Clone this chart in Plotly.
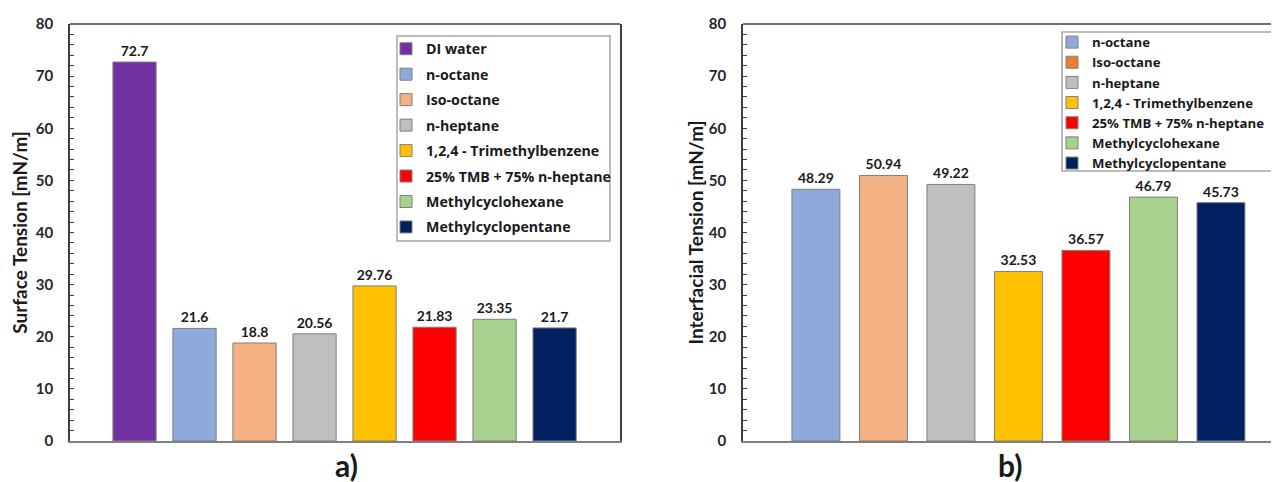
import plotly.graph_objects as go

# ---- data ----
st_names = ["DI water", "n-octane", "Iso-octane", "n-heptane", "1,2,4 - Trimethylbenzene",
            "25% TMB + 75% n-heptane", "Methylcyclohexane", "Methylcyclopentane"]
st_values = [72.7, 21.6, 18.8, 20.56, 29.76, 21.83, 23.35, 21.7]
st_colors = ["#7030A0", "#8EA9DB", "#F4B183", "#BFBFBF", "#FFC000", "#FF0000", "#A9D18E", "#002060"]

ift_names = ["n-octane", "Iso-octane", "n-heptane", "1,2,4 - Trimethylbenzene",
             "25% TMB + 75% n-heptane", "Methylcyclohexane", "Methylcyclopentane"]
ift_values = [48.29, 50.94, 49.22, 32.53, 36.57, 46.79, 45.73]
ift_colors = ["#8EA9DB", "#F4B183", "#BFBFBF", "#FFC000", "#FF0000", "#A9D18E", "#002060"]
ift_legend_colors = ["#8EA9DB", "#ED7D31", "#BFBFBF", "#FFC000", "#FF0000", "#A9D18E", "#002060"]

yticks = [0, 10, 20, 30, 40, 50, 60, 70, 80]

FONT = "Lato"
LFONT = "Open Sans"
fig = go.Figure()

for i, (n, v, c) in enumerate(zip(st_names, st_values, st_colors)):
    fig.add_trace(go.Bar(
        x=[i], y=[v], name=n, marker=dict(color=c, line=dict(color="#7F7F7F", width=1)),
        width=0.72, text=[f"{v:g}"], textposition="outside", constraintext="none",
        cliponaxis=False, textfont=dict(family=FONT, size=14, color="#1a1a1a", weight="bold"),
        xaxis="x", yaxis="y", legend="legend", legendgroup=f"a{i}",
    ))

for i, (n, v, c) in enumerate(zip(ift_names, ift_values, ift_colors)):
    fig.add_trace(go.Bar(
        x=[i], y=[v], name=n, marker=dict(color=c, line=dict(color="#7F7F7F", width=1)),
        width=0.71, text=[f"{v:g}"], textposition="outside", constraintext="none",
        cliponaxis=False, textfont=dict(family=FONT, size=14, color="#1a1a1a", weight="bold"),
        xaxis="x2", yaxis="y2", showlegend=False,
    ))

for i, (n, c) in enumerate(zip(ift_names, ift_legend_colors)):
    fig.add_trace(go.Bar(
        x=[None], y=[None], name=n, marker=dict(color=c, line=dict(color="#7F7F7F", width=1)),
        xaxis="x2", yaxis="y2", legend="legend2", legendgroup=f"b{i}",
    ))

# page body adds an 8px offset; figure coordinates = screen coordinates - 8
OFF = 8
W, H = 1279 - OFF, 482 - OFF


def px(x):
    return (x - OFF) / W


def py(y):
    return 1 - (y - OFF) / H


ydom = [py(441), py(24)]

common_y = dict(range=[0, 80], tickvals=yticks, ticks="inside", ticklen=4, tickcolor="#404040",
                minor=dict(dtick=2, ticks="inside", ticklen=4, tickcolor="#404040"),
                showgrid=False, zeroline=False, showline=True, linecolor="#404040", linewidth=1.5,
                mirror=True, ticklabelstandoff=12, automargin=False,
                tickfont=dict(family=FONT, size=15, color="#262626", weight="bold"))
common_x = dict(showticklabels=False, ticks="", showgrid=False, zeroline=False, showline=True,
                linecolor="#808080", linewidth=2, fixedrange=True, automargin=False)

fig.update_layout(
    width=W, height=H, margin=dict(l=0, r=0, t=0, b=0, autoexpand=False),
    paper_bgcolor="white", plot_bgcolor="white", bargap=0.28,
    xaxis=dict(domain=[px(70), px(620)], range=[-1.075, 8.09], anchor="y", **common_x),
    yaxis=dict(domain=ydom, anchor="x",
               title=dict(text="Surface Tension [mN/m]", standoff=3,
                          font=dict(family=FONT, size=19, color="#1a1a1a", weight="bold")),
               **common_y),
    xaxis2=dict(domain=[px(743), 1.0], range=[-1.08, 6.86], anchor="y2", **common_x),
    yaxis2=dict(domain=ydom, anchor="x2",
                title=dict(text="Interfacial Tension [mN/m]", standoff=0,
                           font=dict(family=FONT, size=19, color="#1a1a1a", weight="bold")),
                **common_y),
    legend=dict(x=px(386), y=py(33), xanchor="left", yanchor="top",
                borderwidth=0, bgcolor="rgba(0,0,0,0)",
                font=dict(family=LFONT, size=14.2, color="#1a1a1a", weight="bold"),
                tracegroupgap=4.0, itemwidth=30),
    legend2=dict(x=px(1052), y=py(27), xanchor="left", yanchor="top",
                 borderwidth=0, bgcolor="rgba(0,0,0,0)",
                 font=dict(family=LFONT, size=13.2, color="#1a1a1a", weight="bold"),
                 tracegroupgap=0, itemwidth=30),
    annotations=[
        dict(text="a)", x=px(346), y=py(465), xref="paper", yref="paper", showarrow=False,
             xanchor="center", yanchor="middle",
             font=dict(family=FONT, size=30, color="#1a1a1a", weight="bold")),
        dict(text="b)", x=px(1010), y=py(465), xref="paper", yref="paper", showarrow=False,
             xanchor="center", yanchor="middle",
             font=dict(family=FONT, size=30, color="#1a1a1a", weight="bold")),
    ],
    shapes=[
        dict(type="line", xref="x domain", yref="y domain", x0=0, x1=1, y0=1, y1=1,
             line=dict(color="#404040", width=1.5)),
        dict(type="line", xref="x2 domain", yref="y2 domain", x0=0, x1=1, y0=1, y1=1,
             line=dict(color="#404040", width=1.5)),
        dict(type="rect", xref="paper", yref="paper", x0=px(397), x1=px(610),
             y0=py(241), y1=py(36), line=dict(color="#A6A6A6", width=1.5),
             fillcolor="white", layer="below"),
        dict(type="rect", xref="paper", yref="paper", x0=px(1062), x1=1.01,
             y0=py(171), y1=py(32), line=dict(color="#A6A6A6", width=1.5),
             fillcolor="white", layer="below"),
    ],
)

fig.write_html("out.html")
